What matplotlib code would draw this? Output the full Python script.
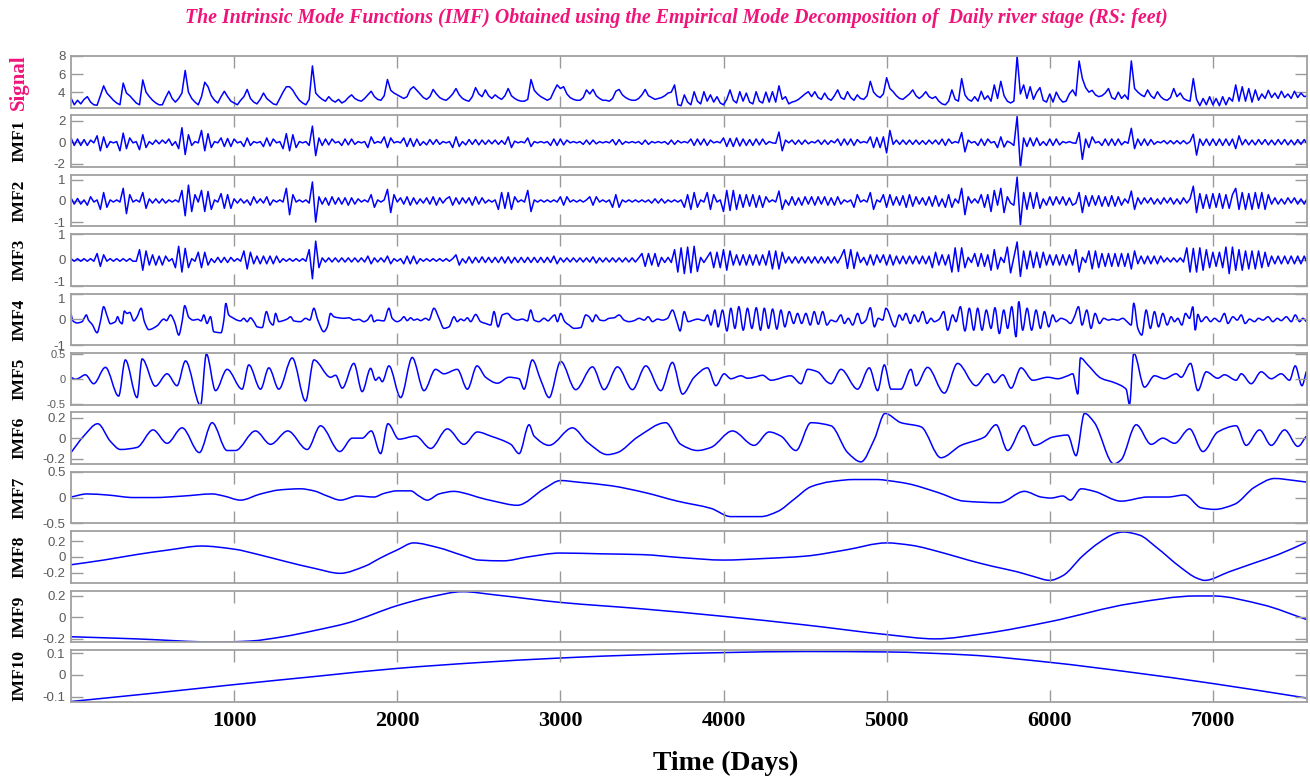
import matplotlib
matplotlib.use("Agg")
import matplotlib.pyplot as plt
import matplotlib.transforms as mtransforms
from matplotlib.path import Path
from matplotlib.patches import PathPatch
import numpy as np

plt.rcParams["font.family"] = ["Liberation Serif", "DejaVu Serif"]

# river stage (feet) and the fast IMFs, one value every 20 days from day 0
step = 20

signal = [
    3.35, 2.6, 3.1, 2.7, 3.2, 3.5, 2.9, 2.6, 2.55, 3.6, 4.7, 3.9, 3.5, 3.1, 2.8, 2.6, 5.0, 3.9, 3.6, 3.2,
    2.8, 2.6, 5.35, 4.0, 3.5, 3.1, 2.8, 2.6, 2.6, 3.4, 4.1, 3.3, 2.9, 3.3, 3.9, 6.4, 4.0, 3.3, 2.9, 2.6,
    3.5, 5.1, 4.6, 3.6, 3.1, 2.8, 3.5, 4.1, 3.5, 3.0, 2.8, 2.6, 3.1, 3.5, 4.3, 3.3, 2.9, 2.7, 3.2, 3.9,
    3.3, 3.0, 2.7, 2.6, 3.3, 4.0, 4.6, 4.6, 4.2, 3.6, 3.1, 2.8, 2.6, 3.2, 6.9, 3.9, 3.5, 3.2, 3.0, 3.5,
    3.1, 2.9, 3.2, 2.8, 3.0, 3.4, 3.7, 3.3, 3.1, 3.0, 3.3, 3.7, 4.1, 3.5, 3.2, 3.1, 3.6, 5.4, 4.2, 3.9,
    3.7, 3.5, 3.3, 3.5, 4.3, 4.6, 4.2, 3.8, 3.4, 3.2, 3.5, 4.3, 3.8, 3.4, 3.2, 3.1, 3.4, 3.8, 4.4, 3.7,
    3.3, 3.1, 3.0, 3.5, 4.5, 3.8, 3.5, 4.25, 3.6, 3.3, 3.7, 3.4, 3.2, 3.6, 4.4, 3.6, 3.3, 3.1, 3.0, 3.0,
    3.2, 5.4, 4.2, 3.8, 3.5, 3.3, 3.1, 3.3, 4.1, 4.8, 4.4, 4.6, 3.8, 3.4, 3.2, 3.1, 3.1, 3.4, 4.25, 3.8,
    4.3, 3.6, 3.3, 3.1, 3.1, 3.0, 3.3, 4.1, 4.3, 3.7, 3.4, 3.2, 3.1, 3.1, 3.3, 3.7, 4.3, 3.6, 3.4, 3.2,
    3.3, 3.4, 3.6, 3.9, 4.0, 4.8, 2.6, 2.5, 3.7, 2.9, 2.6, 4.05, 3.0, 2.7, 4.05, 3.0, 3.7, 2.9, 3.5, 2.8,
    2.6, 3.2, 4.25, 3.1, 2.8, 4.05, 3.0, 3.9, 2.9, 2.7, 4.05, 3.0, 2.8, 4.0, 2.9, 4.05, 2.9, 4.7, 3.2, 3.5,
    2.7, 2.9, 3.0, 3.2, 3.5, 3.8, 4.05, 3.5, 4.05, 3.4, 3.2, 3.9, 3.3, 3.1, 3.6, 4.25, 3.4, 3.2, 4.05, 3.4,
    3.1, 3.7, 3.3, 3.2, 3.6, 5.2, 4.0, 3.6, 3.4, 3.8, 5.6, 4.4, 4.05, 3.6, 3.3, 3.2, 3.5, 3.8, 4.25, 3.6,
    3.3, 3.6, 4.05, 3.5, 3.3, 3.5, 3.0, 2.7, 2.6, 3.0, 4.25, 3.2, 3.0, 5.5, 3.7, 3.2, 3.0, 3.5, 3.0, 4.1,
    3.2, 3.6, 3.0, 4.8, 3.3, 5.2, 3.6, 3.0, 2.8, 3.0, 8.0, 3.8, 4.8, 3.3, 4.6, 3.2, 4.0, 4.5, 3.1, 2.9,
    3.8, 2.9, 4.0, 3.3, 2.9, 3.0, 3.8, 4.25, 3.6, 7.45, 5.5, 4.5, 4.0, 4.2, 3.7, 3.5, 3.6, 3.9, 4.4, 3.4,
    3.2, 4.0, 3.3, 3.7, 3.2, 7.45, 4.4, 4.0, 3.7, 3.5, 4.25, 3.6, 3.3, 4.05, 3.5, 3.2, 3.1, 3.4, 4.4, 3.5,
    3.9, 3.3, 3.1, 3.0, 5.5, 3.2, 2.5, 3.3, 2.6, 3.5, 2.6, 3.3, 2.5, 3.5, 2.6, 3.4, 3.0, 4.8, 3.0, 4.6,
    3.0, 4.4, 2.9, 4.25, 3.1, 3.8, 3.3, 4.2, 3.4, 3.9, 3.3, 4.1, 3.4, 3.8, 3.3, 4.1, 3.4, 3.9, 3.5, 3.6,
]

imf1 = [
    0.4, -0.3, 0.3, -0.3, 0.25, -0.3, 0.2, -0.06, 0.6, -0.8, 0.5, -0.5, 0.06, -0.06, 0.06, -0.8, 0.85, -0.6, 0.4, -0.06,
    0.06, -0.7, 0.7, -0.5, 0.06, -0.2, 0.2, -0.15, 0.2, -0.1, 0.3, -0.3, 0.06, -0.6, 1.35, -1.15, 0.7, -0.3, 0.06, -0.06,
    1.1, -0.8, 0.8, -0.5, 0.06, -0.06, 0.4, -0.4, 0.35, -0.4, 0.3, -0.06, 0.06, -0.4, 0.4, -0.3, 0.06, -0.06, 0.06, -0.4,
    0.4, -0.35, 0.3, -0.06, 0.06, -0.6, 0.8, -0.8, 0.7, -0.5, 0.06, -0.06, 0.06, -0.3, 1.5, -1.25, 0.4, -0.3, 0.3, -0.25,
    0.3, -0.06, 0.06, -0.3, 0.3, -0.25, 0.3, -0.2, 0.06, -0.06, 0.06, -0.5, 0.5, -0.1, 0.06, -0.06, 0.5, -0.5, 0.4, -0.06,
    0.06, -0.06, 0.4, -0.4, 0.35, -0.4, 0.3, -0.3, 0.06, -0.25, 0.25, -0.2, 0.25, -0.2, 0.06, -0.06, 0.06, -0.5, 0.5, -0.4,
    0.06, -0.25, 0.25, -0.2, 0.25, -0.25, 0.2, -0.2, 0.2, -0.15, 0.2, -0.2, 0.15, -0.2, 0.5, -0.5, 0.1, -0.06, 0.06, -0.06,
    0.4, -0.4, 0.06, -0.06, 0.06, -0.06, 0.06, -0.3, 0.3, -0.3, 0.3, -0.25, 0.2, -0.06, 0.06, -0.06, 0.06, -0.2, 0.2, -0.2,
    0.2, -0.15, 0.06, -0.06, 0.06, -0.06, 0.25, -0.25, 0.25, -0.2, 0.06, -0.06, 0.06, -0.06, 0.06, -0.2, 0.2, -0.2, 0.06, -0.06,
    0.06, -0.06, 0.06, -0.2, 0.2, -0.2, 0.15, -0.06, 0.06, -0.06, 0.3, -0.3, 0.3, -0.25, 0.3, -0.3, 0.2, -0.06, 0.06, -0.06,
    0.4, -0.4, 0.35, -0.4, 0.4, -0.35, 0.3, -0.3, 0.25, -0.3, 0.3, -0.25, 0.3, -0.2, 0.06, -0.06, -0.1, 0.95, -0.8, 0.2,
    -0.06, 0.2, -0.2, 0.2, -0.2, 0.2, -0.15, 0.06, -0.06, 0.2, -0.2, 0.2, -0.2, 0.15, -0.06, 0.3, -0.3, 0.3, -0.25, 0.3,
    -0.3, 0.25, -0.06, 0.06, -0.06, 0.5, -0.5, 0.45, -0.5, 0.5, -1.0, 1.1, -0.2, 0.2, -0.2, 0.2, -0.2, 0.2, -0.2, 0.2,
    -0.2, 0.15, -0.2, 0.2, -0.15, 0.2, -0.2, 0.3, -0.3, 0.3, -0.1, 0.06, -0.06, 0.9, -0.9, 0.2, -0.06, 0.06, -0.3, 0.3,
    -0.3, 0.3, -0.06, 0.06, -0.5, 0.5, -0.45, 0.1, -0.06, -0.3, 2.4, -2.4, 0.4, -0.4, 0.4, -0.35, 0.4, -0.3, 0.06, -0.3,
    0.3, -0.3, 0.3, -0.25, 0.06, -0.06, 0.06, -0.06, -0.1, 0.9, -1.6, 0.3, -0.5, 0.5, -0.06, 0.06, -0.3, 0.3, -0.3, 0.3,
    -0.3, 0.3, -0.25, 0.06, -0.1, 1.3, -0.6, 0.3, -0.3, 0.3, -0.3, 0.25, -0.2, 0.06, -0.06, 0.15, -0.15, 0.15, -0.15, 0.15,
    -0.15, 0.15, -0.15, 0.06, 0.75, -1.2, 0.3, -0.3, 0.3, -0.3, 0.3, -0.3, 0.3, -0.3, 0.3, -0.3, 0.3, -0.6, 0.6, -0.25,
    0.25, -0.25, 0.2, -0.25, 0.25, -0.2, 0.25, -0.25, 0.2, -0.25, 0.25, -0.2, 0.25, -0.25, 0.2, -0.25, 0.25, -0.2, 0.25, -0.2,
]

imf2 = [
    0.15, -0.15, 0.12, -0.15, 0.05, -0.2, 0.2, -0.05, 0.05, -0.4, 0.4, -0.3, 0.05, -0.05, 0.05, -0.05, 0.6, -0.6, 0.3, -0.05,
    0.05, -0.05, 0.4, -0.35, 0.1, -0.1, 0.1, -0.1, 0.1, -0.1, 0.05, -0.05, 0.05, -0.05, 0.5, -0.7, 0.75, -0.5, 0.3, -0.05,
    0.5, -0.5, 0.45, -0.4, 0.05, -0.05, 0.35, -0.35, 0.3, -0.35, 0.1, -0.1, 0.1, -0.1, 0.05, -0.2, 0.2, -0.1, 0.1, -0.1,
    0.2, -0.2, 0.05, -0.05, 0.05, -0.05, 0.6, -0.65, 0.3, -0.05, 0.05, -0.05, 0.05, -0.1, 0.9, -1.0, 0.2, -0.15, 0.15, -0.2,
    0.2, -0.15, 0.15, -0.15, 0.15, -0.2, 0.15, -0.15, 0.1, -0.05, 0.05, -0.05, 0.3, -0.3, 0.05, -0.05, 0.05, 0.55, -0.55, 0.3,
    -0.05, 0.15, -0.15, 0.2, -0.2, 0.15, -0.15, 0.1, -0.1, 0.15, -0.15, 0.2, -0.2, 0.15, -0.1, 0.1, 0.2, -0.2, 0.15, -0.15,
    0.15, -0.1, 0.15, -0.2, 0.2, -0.15, 0.15, -0.1, 0.05, -0.05, 0.05, -0.4, 0.4, -0.35, 0.4, -0.4, 0.2, -0.05, 0.05, -0.05,
    0.5, -0.5, 0.05, -0.05, 0.05, -0.05, 0.05, -0.05, 0.05, -0.05, 0.2, -0.2, 0.2, -0.05, 0.05, -0.05, 0.05, -0.05, 0.05, 0.2,
    -0.2, 0.2, -0.05, 0.05, -0.05, 0.05, -0.3, 0.3, -0.3, 0.05, -0.05, 0.05, -0.05, 0.05, -0.05, 0.05, -0.05, 0.05, -0.1, 0.1,
    -0.1, 0.1, -0.1, 0.05, -0.05, 0.05, -0.05, 0.05, -0.3, 0.3, -0.4, 0.4, -0.3, 0.05, -0.05, 0.4, -0.4, 0.3, -0.05, 0.05,
    -0.5, 0.5, -0.45, 0.5, -0.4, 0.3, -0.3, 0.3, -0.25, 0.3, -0.3, 0.25, -0.3, 0.2, -0.05, 0.05, -0.05, 0.47, -0.4, 0.05,
    -0.2, 0.2, -0.2, 0.15, -0.2, 0.2, -0.15, 0.2, -0.2, 0.2, -0.15, 0.2, -0.2, 0.15, -0.2, 0.2, -0.15, 0.05, -0.05, 0.05,
    -0.3, 0.3, -0.05, 0.05, -0.05, 0.4, -0.4, 0.05, -0.05, 0.3, -0.3, 0.3, -0.2, 0.2, -0.2, 0.25, -0.3, 0.3, -0.25, 0.2,
    -0.15, 0.15, -0.2, 0.2, -0.25, 0.25, -0.25, 0.1, -0.3, 0.3, -0.3, 0.1, -0.1, 0.6, -0.65, 0.2, -0.1, 0.1, -0.1, 0.3,
    -0.3, 0.3, -0.5, 0.5, -0.2, 0.6, -0.55, 0.2, -0.1, -0.2, 1.13, -1.15, 0.4, -0.4, 0.4, -0.35, 0.4, -0.35, 0.1, -0.2,
    0.2, -0.2, 0.2, -0.15, 0.2, -0.2, 0.15, -0.2, -0.1, 0.4, -0.55, 0.25, -0.25, 0.25, -0.2, 0.25, -0.25, 0.2, -0.25, 0.25,
    -0.25, 0.2, -0.2, 0.1, -0.1, 0.47, -0.4, 0.15, -0.15, 0.15, -0.1, 0.15, -0.15, 0.1, -0.15, 0.15, -0.1, 0.15, -0.15, 0.1,
    -0.15, 0.15, -0.1, 0.1, 0.7, -0.55, 0.35, -0.35, 0.3, -0.35, 0.35, -0.3, 0.35, -0.35, 0.3, -0.35, 0.3, 0.6, -0.4, 0.4,
    -0.4, 0.35, -0.4, 0.4, -0.35, 0.4, -0.4, 0.3, -0.15, 0.15, -0.15, 0.1, -0.15, 0.15, -0.1, 0.15, -0.15, 0.1, -0.15, 0.15,
]

imf3 = [
    0.05, -0.05, 0.05, -0.05, 0.05, -0.05, 0.05, -0.05, 0.25, -0.25, 0.2, -0.05, 0.05, -0.05, 0.05, -0.05, 0.05, -0.05, 0.05, -0.05,
    -0.05, 0.4, -0.4, 0.35, -0.2, 0.2, -0.2, 0.15, -0.2, 0.15, -0.05, 0.05, -0.3, 0.53, -0.47, 0.45, -0.3, 0.05, -0.05, 0.3,
    -0.3, 0.3, -0.2, 0.05, -0.1, 0.1, -0.1, 0.1, -0.1, 0.1, -0.05, 0.05, -0.05, 0.35, -0.35, 0.3, -0.15, 0.15, -0.15, 0.15,
    -0.15, 0.15, -0.15, 0.15, -0.1, 0.05, -0.05, 0.05, -0.05, 0.05, -0.05, 0.05, -0.05, 0.4, -0.73, 0.73, -0.3, 0.08, -0.08, 0.08,
    -0.08, 0.08, -0.08, 0.08, -0.08, 0.08, -0.08, 0.08, -0.08, 0.08, -0.08, 0.15, -0.15, 0.08, -0.08, 0.08, -0.08, 0.15, -0.15, 0.05,
    -0.05, 0.05, -0.15, 0.15, -0.15, 0.15, -0.15, 0.05, -0.05, 0.05, -0.05, 0.05, -0.05, 0.05, -0.05, 0.05, -0.05, 0.05, 0.2, -0.2,
    0.05, -0.12, 0.12, -0.12, 0.1, -0.1, 0.12, -0.1, 0.1, -0.1, 0.1, -0.1, 0.12, -0.12, 0.12, -0.12, 0.1, -0.1, 0.1, -0.1,
    0.1, -0.1, 0.1, -0.1, 0.1, -0.1, 0.1, -0.1, 0.15, -0.15, 0.08, -0.08, 0.08, -0.08, 0.08, -0.08, 0.08, -0.08, 0.08, -0.08,
    0.12, -0.12, 0.08, -0.08, 0.08, -0.08, 0.08, -0.08, 0.08, -0.08, 0.08, -0.08, 0.08, -0.08, 0.08, 0.25, -0.25, 0.25, -0.2, 0.25,
    -0.25, 0.1, -0.1, 0.1, -0.1, 0.4, -0.47, 0.47, -0.53, 0.5, -0.5, 0.53, -0.45, 0.1, -0.1, 0.1, 0.3, -0.3, 0.3, -0.3,
    0.4, -0.4, 0.35, -0.2, 0.2, -0.2, 0.2, -0.2, 0.2, -0.2, 0.2, -0.2, 0.2, -0.2, 0.35, -0.35, 0.35, -0.35, 0.3, -0.12,
    0.12, -0.12, 0.12, -0.12, 0.12, -0.12, 0.12, -0.12, 0.12, -0.12, 0.12, -0.12, 0.12, -0.12, 0.12, -0.12, 0.12, 0.4, -0.33, 0.4,
    -0.33, 0.3, -0.1, 0.1, -0.2, 0.2, -0.2, 0.2, -0.1, 0.2, -0.2, 0.2, -0.2, 0.15, -0.15, 0.15, -0.15, 0.15, -0.15, 0.15,
    -0.15, 0.15, -0.15, 0.15, -0.3, 0.3, -0.2, 0.2, -0.2, 0.2, -0.47, 0.47, -0.45, 0.47, -0.3, 0.1, -0.1, 0.25, -0.25, 0.25,
    -0.25, 0.2, -0.4, 0.4, -0.35, 0.1, -0.1, 0.5, -0.5, 0.1, 0.7, -0.64, 0.35, -0.35, 0.35, -0.3, 0.3, -0.3, 0.3, -0.2,
    0.2, -0.2, 0.2, -0.2, 0.2, -0.2, 0.2, -0.2, 0.4, -0.47, 0.1, -0.1, 0.35, -0.35, 0.35, -0.3, 0.25, -0.25, 0.25, -0.25,
    0.25, -0.25, 0.25, -0.25, 0.25, -0.35, 0.35, -0.15, 0.15, -0.15, 0.15, -0.15, 0.15, -0.15, 0.15, -0.08, 0.08, -0.08, 0.08, -0.08,
    0.08, -0.08, 0.47, -0.47, 0.45, -0.47, 0.47, -0.4, 0.4, -0.3, 0.3, -0.25, 0.3, -0.3, 0.5, -0.53, 0.5, -0.4, 0.4, -0.4,
    0.35, -0.35, 0.35, -0.35, 0.35, -0.3, 0.3, -0.25, 0.15, -0.15, 0.15, -0.15, 0.15, -0.15, 0.15, -0.15, 0.15, -0.15, 0.15, -0.15,
]

# slower modes as (day, value) turning points
imf4 = [
    (0, 0.23), (12, -0.06), (37, -0.14), (68, -0.09), (82, 0.06), (94, 0.17), (108, -0.04), (129, -0.19), (160, -0.52), (180, -0.09),
    (200, 0.49), (221, 0.14), (241, -0.17), (272, -0.09), (286, 0.10), (299, -0.09), (313, -0.17), (327, 0.32), (344, 0.23), (360, 0.27),
    (385, -0.06), (405, 0.10), (430, 0.43), (450, -0.09), (477, -0.40), (528, -0.25), (569, 0.01), (585, -0.05), (610, 0.17), (634, -0.09),
    (661, -0.61), (681, -0.09), (697, 0.53), (722, 0.08), (749, -0.03), (777, 0.0), (798, -0.06), (814, 0.17), (834, -0.16), (855, 0.10),
    (875, -0.48), (920, -0.52), (937, -0.03), (949, 0.62), (967, 0.17), (998, 0.04), (1018, -0.03), (1039, -0.06), (1059, 0.04), (1080, -0.09),
    (1100, 0.06), (1121, -0.09), (1141, -0.29), (1172, -0.32), (1198, 0.30), (1219, -0.09), (1239, -0.22), (1254, 0.23), (1274, -0.09), (1295, -0.06),
    (1325, 0.01), (1346, 0.10), (1366, -0.06), (1407, -0.09), (1438, 0.04), (1464, -0.03), (1489, 0.43), (1513, -0.03), (1550, -0.48), (1571, -0.29),
    (1591, 0.23), (1612, 0.10), (1642, 0.06), (1673, 0.04), (1704, 0.06), (1734, -0.03), (1765, 0.0), (1796, -0.09), (1816, -0.03), (1841, 0.17),
    (1857, -0.09), (1877, -0.03), (1918, -0.06), (1949, 0.43), (1969, 0.04), (2000, -0.09), (2021, -0.03), (2041, 0.10), (2061, -0.05), (2082, 0.06),
    (2102, -0.03), (2123, 0.01), (2143, -0.05), (2174, 0.04), (2194, -0.03), (2225, 0.43), (2256, 0.04), (2286, -0.35), (2317, -0.29), (2348, 0.10),
    (2368, -0.09), (2389, 0.01), (2409, -0.05), (2430, 0.06), (2450, -0.09), (2481, 0.19), (2511, -0.09), (2542, -0.16), (2573, -0.22), (2593, 0.30),
    (2618, -0.29), (2644, 0.17), (2675, 0.23), (2706, 0.04), (2736, -0.03), (2767, 0.01), (2798, -0.06), (2818, 0.36), (2839, -0.03), (2869, -0.09),
    (2900, 0.04), (2925, -0.06), (2941, 0.04), (2965, 0.17), (2982, -0.09), (3002, 0.23), (3027, -0.09), (3053, -0.22), (3084, -0.35), (3125, -0.32),
    (3156, 0.17), (3176, 0.10), (3197, -0.09), (3217, 0.17), (3244, -0.03), (3268, -0.05), (3299, 0.04), (3329, 0.06), (3360, 0.17), (3391, -0.03),
    (3421, -0.09), (3452, -0.05), (3483, 0.04), (3514, -0.03), (3538, 0.10), (3565, -0.09), (3595, 0.01), (3626, -0.03), (3657, 0.04), (3687, 0.36),
    (3714, -0.09), (3734, -0.45), (3759, 0.30), (3783, -0.09), (3816, -0.03), (3841, 0.01), (3882, -0.05), (3902, 0.17), (3923, -0.22), (3947, 0.36),
    (3967, -0.29), (3994, 0.36), (4021, -0.45), (4045, 0.43), (4070, -0.35), (4094, 0.49), (4121, -0.42), (4147, 0.43), (4174, -0.35), (4201, 0.45),
    (4227, -0.42), (4250, 0.43), (4276, -0.35), (4301, 0.40), (4327, -0.38), (4352, 0.36), (4376, -0.29), (4403, 0.30), (4430, -0.16), (4454, 0.23),
    (4479, -0.16), (4505, 0.23), (4532, -0.22), (4556, 0.30), (4581, -0.19), (4608, 0.30), (4634, -0.22), (4659, -0.03), (4689, -0.09), (4720, 0.17),
    (4741, -0.16), (4765, 0.04), (4792, -0.22), (4822, 0.23), (4847, -0.16), (4873, -0.03), (4900, 0.45), (4925, -0.29), (4949, 0.04), (4976, -0.03),
    (4996, 0.43), (5051, -0.29), (5078, 0.17), (5098, -0.03), (5118, 0.23), (5145, -0.16), (5170, 0.17), (5194, -0.09), (5221, 0.30), (5247, -0.16),
    (5272, 0.04), (5292, -0.09), (5323, 0.01), (5350, 0.30), (5374, -0.42), (5405, 0.17), (5425, -0.09), (5452, 0.49), (5480, -0.45), (5507, 0.43),
    (5534, -0.42), (5558, 0.43), (5585, -0.42), (5611, 0.36), (5640, -0.35), (5664, 0.45), (5691, -0.55), (5718, 0.36), (5742, -0.35), (5767, 0.49),
    (5793, -0.68), (5810, 0.69), (5834, -0.42), (5861, 0.43), (5889, -0.42), (5916, 0.36), (5943, -0.35), (5967, 0.30), (5994, -0.29), (6018, 0.17),
    (6039, -0.09), (6069, 0.04), (6100, -0.03), (6127, -0.16), (6151, 0.10), (6176, 0.49), (6198, -0.22), (6227, 0.36), (6253, -0.35), (6278, 0.23),
    (6305, -0.16), (6331, 0.04), (6360, -0.03), (6386, 0.01), (6417, -0.03), (6448, 0.04), (6474, -0.09), (6499, -0.22), (6515, 0.62), (6540, -0.35),
    (6564, -0.61), (6591, 0.36), (6617, -0.35), (6642, 0.30), (6667, -0.29), (6693, 0.23), (6720, -0.22), (6744, 0.10), (6765, -0.09), (6785, 0.04),
    (6810, -0.22), (6832, 0.23), (6857, 0.04), (6877, 0.49), (6892, -0.42), (6908, 0.19), (6928, -0.09), (6959, 0.10), (6986, -0.09), (7010, 0.04),
    (7041, -0.09), (7071, 0.23), (7092, -0.16), (7123, 0.10), (7149, -0.03), (7174, 0.17), (7198, -0.16), (7225, 0.01), (7255, -0.09), (7280, 0.04),
    (7307, -0.03), (7338, 0.10), (7368, -0.09), (7395, 0.04), (7419, -0.05), (7450, 0.10), (7481, -0.09), (7505, 0.17), (7532, -0.09), (7552, 0.04),
    (7573, -0.09),
]

imf5 = [
    (0, 0.03), (27, -0.01), (47, 0.01), (88, 0.08), (139, -0.10), (211, 0.23), (292, -0.35), (333, 0.38), (405, -0.38), (436, 0.40),
    (517, -0.15), (589, 0.10), (650, -0.14), (702, 0.36), (794, -0.54), (830, 0.50), (886, -0.24), (957, 0.19), (1049, -0.21), (1090, 0.28),
    (1162, -0.21), (1213, 0.22), (1274, -0.21), (1356, 0.42), (1438, -0.45), (1489, 0.38), (1591, 0.03), (1622, 0.07), (1663, -0.19), (1734, 0.31),
    (1785, -0.26), (1837, 0.21), (1867, -0.03), (1888, 0.03), (1908, -0.06), (1949, 0.26), (2021, -0.38), (2092, 0.43), (2164, -0.24), (2235, 0.19),
    (2286, 0.10), (2368, 0.19), (2430, -0.21), (2489, 0.26), (2542, 0.03), (2614, -0.09), (2685, 0.03), (2747, 0.0), (2777, -0.21), (2828, 0.38),
    (2880, -0.03), (2931, -0.38), (3002, 0.35), (3094, -0.22), (3197, 0.24), (3268, -0.22), (3350, 0.24), (3442, -0.22), (3524, 0.26), (3616, -0.24),
    (3687, 0.33), (3749, -0.31), (3820, 0.03), (3902, 0.22), (3953, -0.14), (4004, 0.10), (4045, 0.0), (4107, 0.06), (4147, 0.01), (4188, 0.03),
    (4240, 0.07), (4291, -0.03), (4413, 0.06), (4475, -0.10), (4516, 0.19), (4577, 0.14), (4638, -0.07), (4659, -0.10), (4720, 0.19), (4822, -0.21),
    (4894, 0.22), (4945, -0.24), (4986, 0.28), (5027, -0.21), (5088, -0.21), (5149, 0.19), (5180, -0.14), (5251, 0.23), (5354, -0.29), (5435, 0.31),
    (5548, -0.14), (5620, 0.10), (5660, -0.08), (5712, 0.08), (5763, -0.19), (5824, 0.22), (5896, -0.03), (5988, 0.03), (6049, 0.0), (6110, 0.06),
    (6141, 0.10), (6172, -0.31), (6188, 0.42), (6233, 0.28), (6315, 0.01), (6397, -0.08), (6468, -0.21), (6489, -0.52), (6515, 0.52), (6581, -0.17),
    (6642, 0.06), (6703, 0.0), (6775, 0.10), (6806, 0.03), (6863, 0.31), (6908, -0.24), (6959, 0.14), (7030, 0.01), (7071, 0.08), (7143, -0.03),
    (7174, 0.10), (7235, -0.10), (7296, 0.14), (7358, 0.0), (7419, 0.10), (7470, -0.03), (7505, 0.26), (7546, -0.14), (7573, 0.15),
]

imf6 = [
    (0, -0.14), (78, 0.02), (164, 0.14), (241, -0.03), (303, -0.11), (405, -0.09), (503, 0.08), (589, -0.05), (681, 0.10), (787, -0.14),
    (865, 0.15), (957, -0.12), (1008, -0.12), (1131, 0.07), (1223, -0.06), (1329, 0.07), (1448, -0.11), (1530, 0.12), (1648, -0.13), (1724, 0.0),
    (1785, 0.0), (1841, 0.07), (1898, -0.15), (1943, 0.14), (2010, -0.01), (2113, 0.02), (2205, -0.10), (2307, 0.09), (2409, -0.06), (2491, 0.06),
    (2573, 0.02), (2696, -0.06), (2747, -0.15), (2808, 0.13), (2839, 0.02), (2931, -0.07), (3074, 0.10), (3166, -0.04), (3289, -0.16), (3350, -0.14),
    (3473, 0.01), (3646, 0.15), (3738, -0.06), (3841, -0.12), (3923, -0.09), (4055, 0.07), (4188, -0.07), (4280, 0.06), (4352, 0.02), (4444, -0.12),
    (4536, 0.15), (4659, 0.12), (4761, -0.14), (4843, -0.23), (4925, -0.01), (4990, 0.24), (5088, 0.15), (5211, 0.11), (5333, -0.19), (5456, -0.07),
    (5599, 0.01), (5671, 0.13), (5742, -0.12), (5840, 0.12), (5906, -0.07), (6018, 0.01), (6110, 0.03), (6161, -0.17), (6213, 0.24), (6274, 0.15),
    (6393, -0.25), (6438, -0.21), (6530, 0.13), (6622, -0.06), (6693, 0.0), (6765, -0.05), (6857, 0.09), (6939, -0.13), (7030, 0.06), (7143, 0.12),
    (7204, -0.07), (7286, 0.08), (7358, -0.07), (7440, 0.08), (7521, -0.08), (7573, 0.02),
]

imf7 = [
    (0, 0.01), (98, 0.07), (221, 0.05), (385, 0.0), (507, 0.0), (691, 0.03), (865, 0.07), (937, 0.03), (1039, -0.05), (1162, 0.07),
    (1284, 0.15), (1407, 0.17), (1489, 0.13), (1571, 0.03), (1652, -0.05), (1755, 0.03), (1857, 0.01), (1918, 0.08), (2000, 0.13), (2082, 0.13),
    (2133, 0.03), (2184, -0.05), (2256, 0.07), (2348, 0.12), (2430, 0.07), (2491, 0.01), (2593, -0.07), (2736, -0.15), (2900, 0.17), (3002, 0.33),
    (3105, 0.30), (3309, 0.23), (3514, 0.10), (3718, -0.07), (3923, -0.21), (4045, -0.37), (4229, -0.37), (4332, -0.27), (4434, -0.03), (4536, 0.21),
    (4659, 0.31), (4802, 0.35), (4945, 0.35), (5006, 0.33), (5129, 0.27), (5313, 0.10), (5476, -0.07), (5691, -0.10), (5844, 0.12), (5947, 0.01),
    (6008, -0.01), (6080, 0.03), (6127, -0.05), (6192, 0.17), (6274, 0.12), (6438, -0.07), (6601, 0.01), (6724, 0.01), (6826, 0.05), (6928, -0.20),
    (7010, -0.23), (7133, -0.13), (7255, 0.20), (7378, 0.37), (7501, 0.33), (7573, 0.30),
]

imf8 = [
    (0, -0.10), (200, -0.04), (400, 0.03), (600, 0.09), (800, 0.14), (1000, 0.10), (1150, 0.03), (1300, -0.05), (1500, -0.15), (1650, -0.21),
    (1800, -0.12), (1900, -0.01), (2000, 0.09), (2100, 0.18), (2250, 0.12), (2400, 0.02), (2500, -0.04), (2650, -0.05), (2800, 0.0), (3000, 0.05),
    (3250, 0.04), (3500, 0.03), (3750, -0.01), (4000, -0.04), (4250, -0.02), (4500, 0.01), (4750, 0.09), (5000, 0.18), (5150, 0.15), (5350, 0.05),
    (5500, -0.04), (5650, -0.12), (5800, -0.19), (5900, -0.25), (6000, -0.30), (6080, -0.24), (6200, 0.01), (6300, 0.18), (6400, 0.30), (6450, 0.32),
    (6550, 0.28), (6650, 0.13), (6800, -0.13), (6900, -0.27), (6950, -0.30), (7100, -0.19), (7250, -0.08), (7400, 0.03), (7575, 0.19),
]

imf9 = [
    (0, -0.18), (400, -0.20), (900, -0.23), (1100, -0.22), (1300, -0.18), (1500, -0.12), (1700, -0.05), (2000, 0.11), (2200, 0.19), (2400, 0.24),
    (2600, 0.21), (3000, 0.14), (3500, 0.08), (4000, 0.01), (4500, -0.07), (5000, -0.16), (5300, -0.20), (5600, -0.15), (6000, -0.04), (6500, 0.13),
    (6900, 0.20), (7000, 0.20), (7300, 0.12), (7575, -0.02),
]

imf10 = [
    (0, -0.123), (500, -0.085), (1000, -0.045), (1500, -0.007), (2000, 0.03), (2500, 0.057), (3000, 0.078), (3500, 0.093), (4000, 0.103),
    (4500, 0.108), (5000, 0.106), (5500, 0.092), (6000, 0.058), (6500, 0.012), (7000, -0.04), (7575, -0.107),
]

names = ["Signal", "IMF1", "IMF2", "IMF3", "IMF4", "IMF5", "IMF6", "IMF7", "IMF8", "IMF9", "IMF10"]
series = [signal, imf1, imf2, imf3, imf4, imf5, imf6, imf7, imf8, imf9, imf10]
ylims = [(2.3, 8.0), (-2.3, 2.5), (-1.2, 1.24), (-1, 1), (-1, 1), (-0.52, 0.52),
         (-0.25, 0.25), (-0.5, 0.5), (-0.33, 0.33), (-0.23, 0.25), (-0.123, 0.115)]
yticks = [[4, 6, 8], [-2, 0, 2], [-1, 0, 1], [-1, 0, 1], [-1, 0, 1], [-0.5, 0, 0.5],
          [-0.2, 0, 0.2], [-0.5, 0, 0.5], [-0.2, 0, 0.2], [-0.2, 0, 0.2], [-0.1, 0, 0.1]]
ytick_labels = [["4", "6", "8"], ["-2", "0", "2"], ["-1", "0", "1"], ["-1", "0", "1"], ["-1", "0", "1"],
                ["-0.5", "0", "0.5"], ["-0.2", "0", "0.2"], ["-0.5", "0", "0.5"], ["-0.2", "0", "0.2"],
                ["-0.2", "0", "0.2"], ["-0.1", "0", "0.1"]]
xticks = [1000, 2000, 3000, 4000, 5000, 6000, 7000]


def smooth_path(x, y):
    # cubic Bezier pieces through the turning points, flat at each peak/trough
    d = np.diff(y) / np.diff(x)
    m = np.zeros_like(y)
    with np.errstate(divide="ignore", invalid="ignore"):
        hm = 2.0 / (1.0 / d[:-1] + 1.0 / d[1:])
    m[1:-1] = np.where(d[:-1] * d[1:] > 0, hm, 0.0)
    m[0], m[-1] = d[0], d[-1]
    verts = [(x[0], y[0])]
    codes = [Path.MOVETO]
    for i in range(len(x) - 1):
        h = (x[i + 1] - x[i]) / 3.0
        verts += [(x[i] + h, y[i] + m[i] * h), (x[i + 1] - h, y[i + 1] - m[i + 1] * h), (x[i + 1], y[i + 1])]
        codes += [Path.CURVE4] * 3
    return Path(verts, codes)


pink = "#f0147a"
blue = "#0000ff"
W, H = 1310, 779
left, right = 71, 1307
top0, pitch, height = 56, 59.4, 51.5

fig = plt.figure(figsize=(W / 100, H / 100), dpi=100)

for k, (name, data) in enumerate(zip(names, series)):
    top = top0 + k * pitch
    ax = fig.add_axes([left / W, 1 - (top + height) / H, (right - left) / W, height / H])
    if k < 4:
        x = np.arange(len(data)) * step
        ax.plot(x, data, color=blue, lw=1.1)
    else:
        x, y = np.array(data, dtype=float).T
        ax.add_patch(PathPatch(smooth_path(x, y), fill=False, edgecolor=blue, lw=1.1))
    ax.set_xlim(0, 7577)
    ax.set_ylim(*ylims[k])
    ax.set_xticks(xticks)
    ax.set_yticks(yticks[k])
    labels = ax.set_yticklabels(ytick_labels[k], family="Liberation Sans",
                                fontsize=8 if k == 5 else 9.5, color="#5a5a5a")
    ax.tick_params(direction="in", top=True, right=True, length=8.5, width=1.0,
                   color="#9a9a9a", pad=4)
    for s in ax.spines.values():
        s.set_color("#a0a0a0")
        s.set_linewidth(1.3)
    if k < len(names) - 1:
        ax.set_xticklabels([])
    else:
        ax.set_xticklabels([str(t) for t in xticks], fontsize=16, fontweight="bold")
        ax.tick_params(axis="x", pad=7)
    # keep the edge labels of IMF3 and IMF4 from running into each other
    if k == 3:
        labels[0].set_va("baseline")
    if k == 4:
        labels[2].set_va("top")
    fig.text(19 / W, 1 - (top + height / 2) / H, name, rotation=90, ha="center", va="center",
             fontsize=15 if k == 0 else 12.5, fontweight="bold",
             color=pink if k == 0 else "black")

fig.text(676 / W, 1 - 18 / H,
         "The Intrinsic Mode Functions (IMF) Obtained using the Empirical Mode Decomposition of  "
         "Daily river stage (RS: feet)",
         ha="center", va="center", fontsize=14.3, fontweight="bold", style="italic", color=pink)
fig.text(726 / W, 1 - 763 / H, "Time (Days)", ha="center", va="center", fontsize=20, fontweight="bold")

fig.savefig("out.png", dpi=100)
